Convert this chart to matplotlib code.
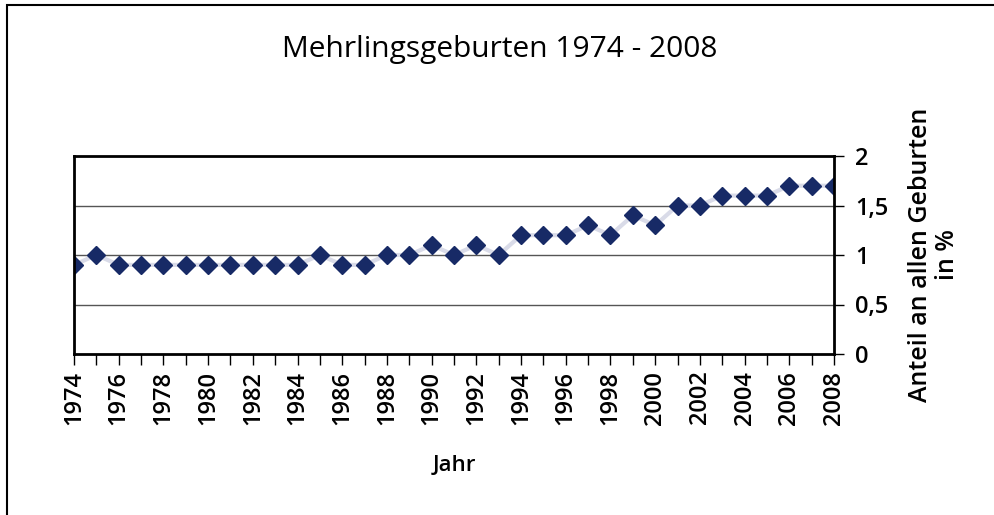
import matplotlib
matplotlib.use("Agg")
import matplotlib.pyplot as plt
from matplotlib.patches import Rectangle

years = list(range(1974, 2009))
share = [0.9, 1.0, 0.9, 0.9, 0.9, 0.9, 0.9, 0.9, 0.9, 0.9, 0.9,
         1.0, 0.9, 0.9, 1.0, 1.0, 1.1, 1.0, 1.1, 1.0, 1.2,
         1.2, 1.2, 1.3, 1.2, 1.4, 1.3, 1.5, 1.5, 1.6, 1.6,
         1.6, 1.7, 1.7, 1.7]
y_ticks = [0, 0.5, 1, 1.5, 2]
y_tick_labels = ["0", "0,5", "1", "1,5", "2"]

plt.rcParams["font.family"] = ["Open Sans", "DejaVu Sans"]

W, H = 995, 515
fig = plt.figure(figsize=(W / 100, H / 100), dpi=100)
fig.patches.append(Rectangle((7 / W, -0.1), 1.2, 1 - 5 / H + 0.1, transform=fig.transFigure,
                             fill=False, edgecolor="black", linewidth=1.5))

ax = fig.add_axes([74 / W, 1 - 354 / H, (834 - 74) / W, (354 - 156) / H])
ax.plot(years, share, color="#d9dbe8", linewidth=3, zorder=2,
        marker="D", markersize=9.5, markerfacecolor="#172a66", markeredgecolor="#172a66")
for v in y_ticks[1:-1]:
    ax.axhline(v, color="#555555", linewidth=1, zorder=1)

ax.set_xlim(1974, 2008)
ax.set_ylim(0, 2)
for s in ax.spines.values():
    s.set_linewidth(2)
    s.set_color("black")

ax.yaxis.tick_right()
ax.yaxis.set_label_position("right")
ax.set_yticks(y_ticks)
ax.set_yticklabels(y_tick_labels, fontsize=17, fontweight="semibold")
ax.tick_params(axis="y", length=7, width=1, pad=8)

ax.set_xticks(years, minor=True)
ax.set_xticks(years[::2])
ax.set_xticklabels([str(y) for y in years[::2]], rotation=90, fontsize=17,
                   fontweight="semibold")
ax.tick_params(axis="x", which="both", length=8, width=1, pad=4)

ax.set_xlabel("Jahr", fontsize=16, labelpad=22, fontweight="semibold")
ax.set_ylabel("Anteil an allen Geburten\nin %", fontsize=18, labelpad=14,
              linespacing=1.15, fontweight="semibold")

fig.text(0.502, 1 - 50 / H, "Mehrlingsgeburten 1974 - 2008", ha="center", va="center",
         fontsize=21.5)

fig.savefig("out.png", dpi=100)
